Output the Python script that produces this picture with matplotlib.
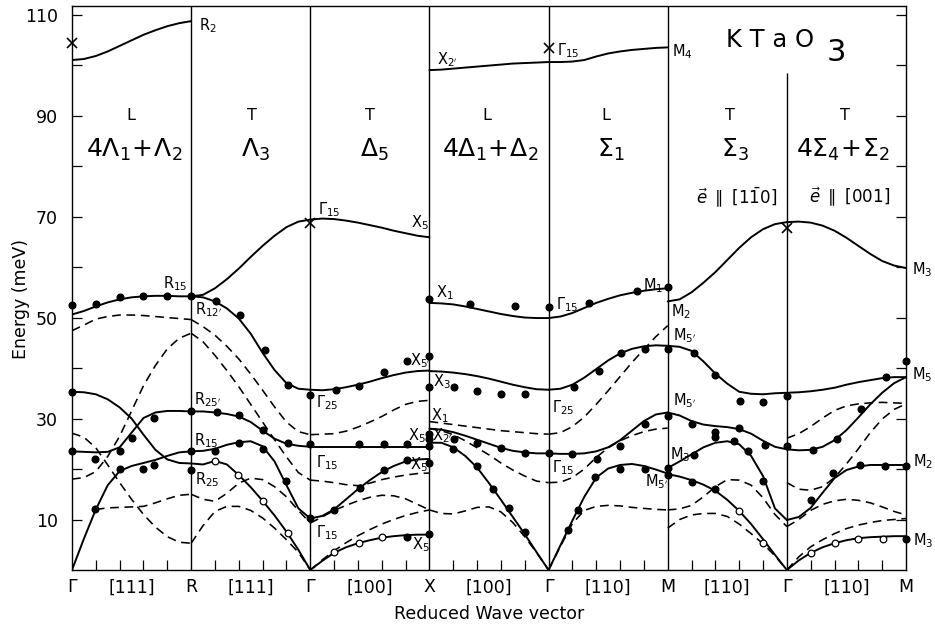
import numpy as np
import matplotlib
matplotlib.use('Agg')
import matplotlib.pyplot as plt

nan = float('nan')

# fraction along each branch segment at which energies were read
Q = [0.0, 0.1, 0.2, 0.3, 0.4, 0.5, 0.6, 0.7, 0.8, 0.9, 1.0]

# segment labels along the bottom
SYM_POINTS = ['Γ', 'R', 'Γ', 'X', 'Γ', 'M', 'Γ', 'M']
DIRECTIONS = ['[111]', '[111]', '[100]', '[100]', '[110]', '[110]', '[110]']

# energies (meV), solid = calculated branches, dashed = other calculated branches
GR_SOLID = [
    [101.0, 101.2, 101.8, 102.7, 103.8, 104.9, 106.0, 106.9, 107.7, 108.3, 108.7],
    [50.6, 51.3, 52.2, 53.0, 53.6, 54.0, 54.2, 54.3, 54.3, 54.2, 54.2],
    [35.3, 35.2, 34.8, 33.8, 32.2, 30.0, 26.8, 23.8, 21.9, 21.2, 21.1],
    [23.5, 23.4, 23.3, 23.4, 24.3, 27.2, 30.1, 31.2, 31.5, 31.5, 31.4],
    [0.0, 6.2, 12.0, 16.8, 19.6, 20.6, 21.2, 21.8, 22.6, 23.3, 23.5],
]
GR_DASHED = [
    [47.4, 48.5, 49.7, 50.2, 50.5, 50.5, 50.4, 50.2, 50.0, 49.8, 49.6],
    [18.0, 18.3, 19.5, 22.5, 26.5, 31.5, 36.5, 40.5, 43.8, 45.9, 46.9],
    [27.1, 26.3, 24.2, 20.8, 17.3, 14.0, 11.0, 8.5, 6.6, 5.5, 5.3],
    [nan, nan, 12.0, 12.3, 12.4, 12.5, 12.6, 13.3, 14.1, 14.8, 15.0],
]

RG_SOLID = [
    [54.2, 54.5, 55.8, 57.6, 59.7, 62.0, 64.2, 66.2, 67.9, 69.0, 69.4],
    [54.2, 54.0, 53.2, 51.8, 49.8, 46.8, 43.0, 39.6, 37.0, 35.9, 35.7],
    [31.4, 31.4, 31.2, 30.9, 30.4, 29.3, 27.6, 26.0, 25.0, 24.6, 24.4],
    [23.5, 23.6, 24.0, 24.8, 25.3, 25.5, 24.5, 21.5, 16.8, 12.2, 10.2],
    [21.1, 20.9, 21.6, 20.9, 18.8, 16.4, 13.7, 10.8, 7.6, 4.0, 0.0],
]
RG_DASHED = [
    [49.6, 48.2, 46.5, 44.3, 41.8, 38.8, 35.6, 32.3, 29.3, 27.4, 26.8],
    [46.9, 45.2, 42.5, 39.5, 36.3, 32.8, 29.3, 25.8, 22.4, 19.3, 17.8],
    [15.0, 14.0, 13.6, 15.2, 17.2, 18.2, 17.9, 16.5, 14.5, 11.8, 9.3],
    [5.3, 8.8, 11.6, 12.6, 12.6, 11.8, 10.3, 8.3, 6.0, 3.5, 0.0],
]

GX_SOLID = [
    [69.4, 69.6, 69.5, 69.2, 68.8, 68.3, 67.8, 67.2, 66.7, 66.2, 65.9],
    [35.7, 35.6, 35.8, 36.2, 36.7, 37.3, 38.0, 38.6, 39.1, 39.4, 39.5],
    [24.4, 24.4, 24.4, 24.4, 24.4, 24.4, 24.4, 24.4, 24.4, 24.4, 24.4],
    [10.2, 10.7, 12.0, 14.0, 16.0, 17.8, 19.4, 20.6, 21.5, 21.9, 22.0],
    [0.0, 1.8, 3.4, 4.5, 5.3, 5.9, 6.4, 6.7, 6.9, 7.0, 7.0],
]
GX_DASHED = [
    [26.8, 26.9, 27.0, 27.5, 28.3, 29.3, 30.4, 31.7, 32.8, 33.4, 33.6],
    [17.8, 17.6, 17.3, 16.9, 16.7, 17.2, 17.9, 18.4, 18.8, 19.1, 19.2],
    [9.3, 10.5, 11.8, 12.8, 13.7, 14.4, 14.8, 14.7, 14.1, 13.0, 11.9],
    [0.0, 2.0, 3.8, 5.4, 6.8, 8.0, 9.1, 10.0, 10.8, 11.4, 11.9],
]

XG_SOLID = [
    [99.0, 99.1, 99.3, 99.5, 99.7, 99.9, 100.1, 100.3, 100.4, 100.5, 100.6],
    [52.9, 52.8, 52.6, 52.2, 51.7, 51.2, 50.7, 50.3, 50.0, 49.9, 49.9],
    [39.4, 39.3, 39.1, 38.8, 38.4, 37.9, 37.3, 36.7, 36.2, 35.8, 35.7],
    [28.0, 27.8, 27.3, 26.6, 25.8, 25.0, 24.2, 23.6, 23.3, 23.1, 23.1],
    [25.2, 25.2, 24.3, 22.6, 20.3, 17.2, 13.9, 10.5, 7.1, 3.5, 0.0],
]
XG_DASHED = [
    [29.4, 29.1, 28.8, 28.5, 28.2, 27.9, 27.6, 27.4, 27.2, 27.0, 26.9],
    [28.0, 27.6, 26.8, 25.6, 24.2, 22.8, 21.2, 19.8, 18.6, 17.6, 17.3],
    [11.9, 11.2, 11.1, 11.7, 12.4, 12.5, 11.5, 9.4, 6.6, 3.4, 0.0],
]

GM_SOLID = [
    [100.6, 100.6, 100.7, 101.0, 101.7, 102.3, 102.7, 103.0, 103.2, 103.4, 103.5],
    [49.9, 50.2, 50.9, 51.9, 52.9, 53.7, 54.4, 54.9, 55.3, 55.6, 55.8],
    [35.7, 35.9, 36.7, 38.1, 39.8, 41.5, 42.9, 43.8, 44.3, 44.5, 44.4],
    [23.1, 23.0, 23.0, 23.1, 23.5, 24.3, 25.7, 27.6, 29.5, 30.8, 31.2],
    [0.0, 4.9, 9.8, 14.5, 18.3, 20.1, 20.8, 21.0, 20.6, 19.9, 19.1],
]
GM_DASHED = [
    [26.9, 27.2, 28.4, 30.3, 32.8, 35.5, 38.3, 41.1, 43.7, 46.2, 48.4],
    [17.3, 17.4, 18.3, 20.0, 22.3, 24.2, 25.6, 26.6, 27.4, 27.9, 28.1],
    [0.0, 4.7, 9.2, 11.8, 12.6, 12.8, 12.7, 12.4, 12.2, 12.0, 11.9],
]

MG_SOLID = [
    [53.2, 53.6, 55.0, 56.9, 59.0, 61.4, 63.8, 65.9, 67.5, 68.5, 68.9],
    [44.4, 44.2, 43.4, 41.3, 38.9, 36.9, 35.3, 34.9, 34.8, 35.0, 35.1],
    [31.2, 30.6, 29.5, 28.8, 28.5, 28.3, 27.9, 27.0, 25.6, 24.4, 23.9],
    [20.2, 21.5, 22.9, 24.3, 25.2, 25.5, 24.9, 22.6, 18.6, 12.2, 9.9],
    [19.0, 18.5, 17.8, 16.9, 15.7, 13.9, 11.7, 9.1, 6.1, 3.0, 0.0],
]
MG_DASHED = [
    [11.9, 12.1, 12.8, 14.5, 16.5, 17.9, 17.8, 16.8, 14.3, 11.0, 8.6],
    [8.3, 10.0, 10.9, 11.2, 11.2, 10.6, 9.1, 7.2, 5.2, 2.8, 0.0],
]

GM2_SOLID = [
    [68.9, 69.0, 68.8, 68.2, 67.2, 65.8, 64.2, 62.6, 61.2, 60.3, 59.8],
    [35.1, 35.2, 35.4, 35.7, 36.1, 36.7, 37.2, 37.6, 38.0, 38.2, 38.2],
    [23.9, 23.7, 23.8, 24.4, 25.7, 27.7, 30.2, 32.8, 35.1, 37.0, 38.2],
    [9.9, 10.5, 12.3, 15.3, 18.2, 19.8, 20.5, 20.8, 20.8, 20.8, 20.8],
    [0.0, 1.9, 3.4, 4.5, 5.3, 5.9, 6.3, 6.5, 6.6, 6.7, 6.7],
]
GM2_DASHED = [
    [26.1, 27.0, 28.4, 30.1, 31.6, 32.5, 32.9, 33.1, 33.2, 33.1, 33.0],
    [17.3, 16.0, 15.8, 16.5, 18.3, 21.0, 24.0, 27.2, 29.9, 31.8, 32.9],
    [8.6, 10.0, 11.8, 13.0, 13.7, 14.0, 13.8, 13.3, 12.5, 11.6, 10.9],
    [0.0, 2.6, 4.6, 6.0, 7.2, 8.2, 8.9, 9.4, 9.8, 10.0, 10.2],
]

# measured points: (fraction along segment, energy)
GR_DOTS = [(0, 52.5), (0.2, 52.6), (0.4, 54.0), (0.6, 54.3), (0.8, 54.2), (1.0, 54.2),
           (0, 35.2), (0, 23.5), (0.19, 21.9), (0.4, 23.6), (0.5, 26.1), (0.69, 30.1),
           (1.0, 31.4), (0.4, 20.1), (0.6, 20.1), (0.69, 20.7), (1.0, 23.5), (1.0, 19.8),
           (0.19, 12.1)]
RG_DOTS = [(0.21, 53.3), (0.41, 50.5), (0.62, 43.5), (0.81, 36.6), (1.0, 34.7),
           (0.22, 31.3), (0.4, 30.6), (0.6, 27.8), (0.81, 25.1), (1.0, 24.9),
           (0.2, 23.6), (0.4, 25.2), (0.6, 24.0), (0.8, 17.7), (1.0, 10.2)]
RG_OPEN = [(0.2, 21.5), (0.39, 18.8), (0.6, 13.7), (0.81, 7.3)]
GX_DOTS = [(0.22, 35.7), (0.41, 36.5), (0.62, 39.2), (0.81, 41.4),
           (0.41, 25.0), (0.62, 25.0), (0.81, 25.0),
           (0.2, 11.8), (0.42, 16.2), (0.62, 19.8), (0.81, 21.7), (0.81, 6.5),
           (1.0, 53.7), (1.0, 42.4), (1.0, 36.2), (1.0, 27.0), (1.0, 26.0),
           (1.0, 24.6), (1.0, 21.2), (1.0, 7.1)]
GX_OPEN = [(0.2, 3.5), (0.41, 5.3), (0.6, 6.5)]
XG_DOTS = [(0.34, 52.7), (0.72, 52.2), (1.0, 52.0),
           (0.21, 36.3), (0.4, 35.4), (0.6, 34.8), (0.8, 34.8),
           (0.21, 25.9), (0.4, 25.1), (0.6, 24.1), (0.8, 23.1), (1.0, 23.2),
           (0.2, 24.0), (0.4, 20.5), (0.53, 16.0), (0.67, 12.2), (0.8, 7.5)]
GM_DOTS = [(0.34, 52.9), (0.74, 55.2), (1.0, 56.0),
           (0.21, 36.3), (0.42, 39.5), (0.61, 43.0), (0.81, 43.7), (1.0, 43.7),
           (0.2, 23.0), (0.41, 21.9), (0.6, 24.6), (0.81, 28.9), (1.0, 30.5),
           (0.16, 7.9), (0.25, 11.9), (0.39, 18.5), (0.6, 20.1), (0.81, 20.1),
           (1.0, 20.2), (1.0, 18.9)]
MG_DOTS = [(0.22, 43.0), (0.4, 38.7), (0.61, 33.4), (0.8, 33.3), (1.0, 34.5),
           (0.2, 28.9), (0.4, 27.3), (0.4, 26.3), (0.6, 28.1), (0.82, 24.8), (1.0, 24.6),
           (0.22, 22.8), (0.56, 25.5), (0.67, 23.6), (0.8, 17.6),
           (0.2, 17.5), (0.4, 16.1)]
MG_OPEN = [(0.6, 11.6), (0.8, 5.4)]
GM2_DOTS = [(0.22, 23.8), (0.42, 25.9), (0.62, 31.8), (0.83, 38.2), (1.0, 41.4),
            (0.2, 13.9), (0.39, 19.2), (0.61, 20.8), (0.82, 20.5), (1.0, 20.6),
            (1.0, 6.1)]
GM2_OPEN = [(0.2, 3.3), (0.4, 5.3), (0.6, 6.1), (0.81, 6.1)]

# optical points marked with crosses: (segment boundary, energy)
CROSSES = [(0, 104.4), (2, 68.8), (4, 103.4), (6, 67.7)]

SOLID = [GR_SOLID, RG_SOLID, GX_SOLID, XG_SOLID, GM_SOLID, MG_SOLID, GM2_SOLID]
DASHED = [GR_DASHED, RG_DASHED, GX_DASHED, XG_DASHED, GM_DASHED, MG_DASHED, GM2_DASHED]
DOTS = [GR_DOTS, RG_DOTS, GX_DOTS, XG_DOTS, GM_DOTS, MG_DOTS, GM2_DOTS]
OPEN = [[], RG_OPEN, GX_OPEN, [], [], MG_OPEN, GM2_OPEN]


fig = plt.figure(figsize=(9.35, 6.27), dpi=100)
ax = fig.add_axes([72 / 935, 1 - 570 / 627, 834 / 935, 564 / 627])

q = np.array(Q)
for k in range(7):
    for e in SOLID[k]:
        ax.plot(k + q, e, color='k', lw=1.4, solid_capstyle='round')
    for e in DASHED[k]:
        ax.plot(k + q, e, color='k', lw=1.15, dashes=(5.5, 3.5))
    if DOTS[k]:
        d = np.array(DOTS[k])
        ax.plot(k + d[:, 0], d[:, 1], 'o', color='k', ms=4.8, zorder=5, clip_on=False)
    if OPEN[k]:
        d = np.array(OPEN[k])
        ax.plot(k + d[:, 0], d[:, 1], 'o', mfc='white', mec='k', mew=0.9, ms=4.8,
                zorder=5)

c = np.array(CROSSES)
ax.plot(c[:, 0], c[:, 1], 'x', color='k', ms=7, mew=1.2, zorder=6, clip_on=False)

# vertical symmetry lines
for k in range(1, 6):
    ax.axvline(k, color='k', lw=1.0)
ax.vlines(6, 0, 98.5, color='k', lw=1.0)

ax.set_xlim(0, 7)
ax.set_ylim(0, 111.7)

# x axis: symmetry points + directions
xt = np.arange(0, 7.01, 0.5)
xl = []
for k in range(7):
    xl += [SYM_POINTS[k], DIRECTIONS[k]]
xl.append(SYM_POINTS[7])
ax.set_xticks(xt)
ax.set_xticklabels(xl, fontsize=12.5)
ax.set_xticks([k + j * 0.2 for k in range(7) for j in range(1, 5)], minor=True)
ax.tick_params(axis='x', which='major', length=0, pad=6)
ax.tick_params(axis='x', which='minor', direction='in', length=7, width=0.9)

ax.set_yticks([10, 30, 50, 70, 90, 110])
ax.set_yticks([20, 40, 60, 80, 100], minor=True)
ax.tick_params(axis='y', which='both', direction='in', length=7.5, width=0.9,
               right=True, labelsize=12.5, pad=10)

for s in ax.spines.values():
    s.set_linewidth(1.0)

ax.set_xlabel('Reduced Wave vector', fontsize=12.5)
ax.xaxis.set_label_coords(0.5, -0.062)
ax.set_ylabel('Energy (meV)', fontsize=12.5)
ax.yaxis.set_label_coords(-0.05, 0.48)

# branch type headers
for xc, t in zip([0.49, 1.51, 2.5, 3.48, 4.48, 5.52, 6.49],
                 ['L', 'T', 'T', 'L', 'L', 'T', 'T']):
    ax.text(xc, 90.1, t, ha='center', va='center', fontsize=11.5)
heads = [(0.52, r'$4\Lambda_1\!+\!\Lambda_2$'), (1.54, r'$\Lambda_3$'), (2.54, r'$\Delta_5$'),
         (3.51, r'$4\Delta_1\!+\!\Delta_2$'), (4.52, r'$\Sigma_1$'), (5.56, r'$\Sigma_3$'),
         (6.47, r'$4\Sigma_4\!+\!\Sigma_2$')]
for xc, t in heads:
    ax.text(xc, 83.2, t, ha='center', va='center', fontsize=18)
ax.text(5.58, 73.9, r'$\vec{e}\ \parallel\ [1\bar{1}0]$', ha='center', va='center', fontsize=12)
ax.text(6.53, 73.9, r'$\vec{e}\ \parallel\ [001]$', ha='center', va='center', fontsize=12)

ax.text(5.49, 105.0, 'K T a O', ha='left', va='center', fontsize=17.5)
ax.text(6.33, 102.4, '3', ha='left', va='center', fontsize=22)

# symmetry point labels
labels = [
    (1.07, 107.9, r'$\mathrm{R}_2$'), (0.76, 56.8, r'$\mathrm{R}_{15}$'),
    (1.03, 51.5, r"$\mathrm{R}_{12'}$"), (1.02, 33.7, r"$\mathrm{R}_{25'}$"),
    (1.02, 25.7, r'$\mathrm{R}_{15}$'), (1.03, 17.8, r'$\mathrm{R}_{25}$'),
    (2.065, 71.3, r'$\Gamma_{15}$'), (2.845, 68.7, r'$\mathrm{X}_5$'),
    (2.05, 33.1, r'$\Gamma_{25}$'), (2.84, 41.4, r"$\mathrm{X}_{5'}$"),
    (2.82, 26.7, r'$\mathrm{X}_5$'), (2.05, 21.2, r'$\Gamma_{15}$'),
    (2.84, 20.8, r"$\mathrm{X}_{5'}$"), (2.05, 7.3, r'$\Gamma_{15}$'),
    (2.85, 5.1, r'$\mathrm{X}_5$'), (3.06, 101.0, r"$\mathrm{X}_{2'}$"),
    (4.07, 102.8, r'$\Gamma_{15}$'), (5.04, 102.6, r'$\mathrm{M}_4$'),
    (3.055, 54.9, r'$\mathrm{X}_1$'), (4.06, 52.5, r'$\Gamma_{15}$'),
    (4.79, 56.4, r'$\mathrm{M}_1$'), (5.03, 51.1, r'$\mathrm{M}_2$'),
    (7.05, 59.4, r'$\mathrm{M}_3$'), (3.03, 37.4, r'$\mathrm{X}_3$'),
    (4.03, 32.1, r'$\Gamma_{25}$'), (3.01, 30.5, r'$\mathrm{X}_1$'),
    (3.02, 26.7, r"$\mathrm{X}_{2'}$"), (4.03, 20.2, r'$\Gamma_{15}$'),
    (5.045, 46.5, r"$\mathrm{M}_{5'}$"), (5.045, 33.5, r"$\mathrm{M}_{5'}$"),
    (5.02, 22.8, r'$\mathrm{M}_3$'), (4.81, 17.4, r"$\mathrm{M}_{5'}$"),
    (7.05, 38.6, r'$\mathrm{M}_5$'), (7.06, 21.4, r'$\mathrm{M}_2$'),
    (7.06, 5.9, r'$\mathrm{M}_3$'),
]
for x, y, t in labels:
    ax.text(x, y, t, ha='left', va='center', fontsize=10.5, clip_on=False)

fig.savefig('out.png', dpi=100)
